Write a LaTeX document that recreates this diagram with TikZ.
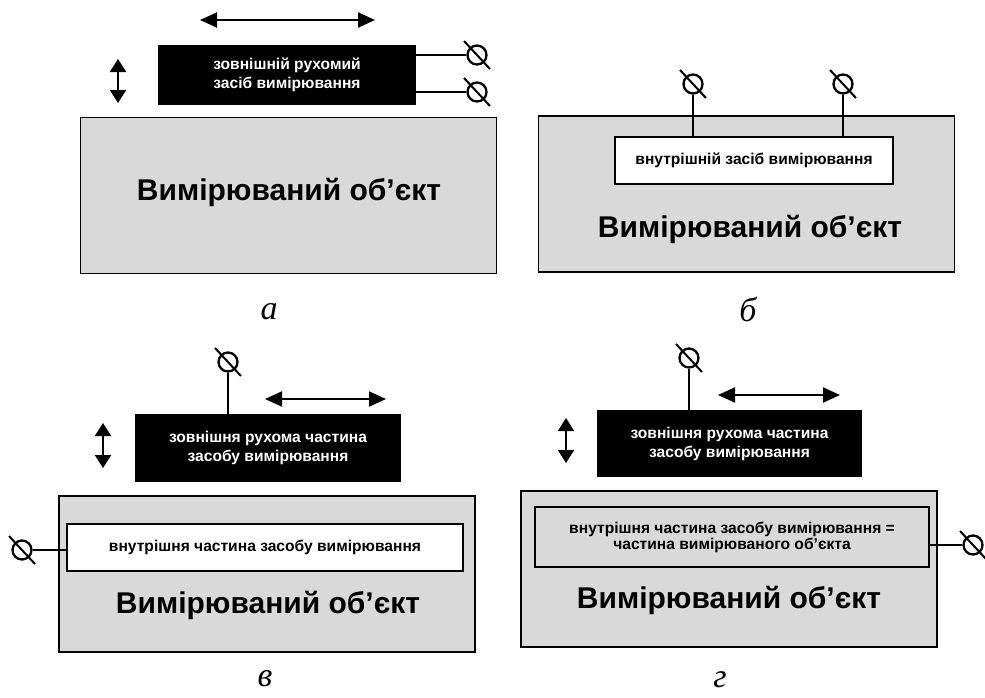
\documentclass[tikz,border=0pt]{standalone}
\usepackage{fontspec}
\setmainfont{Liberation Sans}
\newfontfamily\labelfont{Liberation Serif}
\usetikzlibrary{arrows.meta}
\definecolor{objgray}{HTML}{D9D9D9}

\tikzset{
  object/.style={draw,line width=1.6pt,fill=objgray,minimum width=416pt,minimum height=156pt,inner sep=0pt},
  outer/.style={fill=black,text=white,font=\bfseries\fontsize{15.6}{19}\selectfont,align=center,inner sep=0pt},
  inner/.style={draw,line width=1.4pt,fill=white,font=\bfseries\fontsize{15.6}{19}\selectfont,align=center,inner sep=0pt},
  title/.style={font=\bfseries\fontsize{30}{36}\selectfont,inner sep=0pt},
  term/.style={circle,draw,line width=2.3pt,minimum size=19pt,inner sep=0pt},
  move/.style={{Triangle[length=17pt,width=15pt]}-{Triangle[length=17pt,width=15pt]},line width=2pt},
  lift/.style={{Triangle[length=13pt,width=16pt]}-{Triangle[length=13pt,width=16pt]},line width=2pt},
  wire/.style={line width=1.3pt},
  caption/.style={font=\labelfont\itshape\fontsize{34}{40}\selectfont,inner sep=0pt}
}

\begin{document}
\begin{tikzpicture}[x=1pt,y=-1pt]
\useasboundingbox (0,0) rectangle (985,697);

% a
\node[object] (objA) at (288.5,195.5) {};
\node[title] at (289,192) {Вимірюваний об’єкт};
\node[outer,minimum width=258pt,minimum height=60pt] (outerA) at (287,75) {зовнішній рухомий\\засіб вимірювання};
\node[term] (ta1) at (477,55) {};
\node[term] (ta2) at (477,92) {};
\draw[wire] (ta1 -| outerA.east) -- (ta1);
\draw[wire] (ta2 -| outerA.east) -- (ta2);
\coordinate (hA1) at (200,20);
\coordinate (hA2) at (375,20);
\draw[move] (hA1) -- (hA2);
\coordinate (vA1) at (118,59);
\coordinate (vA2) at (118,103);
\draw[lift] (vA1) -- (vA2);
\node[caption] (capA) at (269,312) {а};

% b
\node[object,minimum height=156pt] (objB) at (746.5,194) {};
\node[title] at (750,229) {Вимірюваний об’єкт};
\node[inner,minimum width=278pt,minimum height=47pt] (innerB) at (754,160.5) {внутрішній засіб вимірювання};
\node[term] (tb1) at (693,84) {};
\node[term] (tb2) at (843,84) {};
\draw[wire] (tb1) -- (tb1 |- innerB.north);
\draw[wire] (tb2) -- (tb2 |- innerB.north);
\node[caption] (capB) at (748,309) {б};

% v
\node[object] (objC) at (267,574) {};
\node[title] at (268,605) {Вимірюваний об’єкт};
\node[inner,minimum width=396pt,minimum height=47pt] (innerC) at (265,547.5) {внутрішня частина засобу вимірювання};
\node[outer,minimum width=266pt,minimum height=68pt] (outerC) at (268,448) {зовнішня рухома частина\\засобу вимірювання};
\node[term] (tc1) at (228,362) {};
\node[term] (tc2) at (22,550) {};
\draw[wire] (tc1) -- (tc1 |- outerC.north);
\draw[wire] (tc2) -- (tc2 -| innerC.west);
\coordinate (hC1) at (265,399);
\coordinate (hC2) at (386,399);
\draw[move] (hC1) -- (hC2);
\coordinate (vC1) at (103,423);
\coordinate (vC2) at (103,468);
\draw[lift] (vC1) -- (vC2);
\node[caption] (capC) at (265,679) {в};

% g
\node[object] (objD) at (729,569) {};
\node[title] at (729,600) {Вимірюваний об’єкт};
\node[inner,fill=objgray,minimum width=394pt,minimum height=60pt,font=\bfseries\fontsize{15.6}{15.8}\selectfont] (innerD) at (732,537) {внутрішня частина засобу вимірювання =\\частина вимірюваного об’єкта};
\node[outer,minimum width=265pt,minimum height=67pt] (outerD) at (729.5,443.5) {зовнішня рухома частина\\засобу вимірювання};
\node[term] (td1) at (689,358) {};
\node[term] (td2) at (973,545) {};
\draw[wire] (td1) -- (td1 |- outerD.north);
\draw[wire] (td2 -| innerD.east) -- (td2);
\coordinate (hD1) at (718,395);
\coordinate (hD2) at (840,395);
\draw[move] (hD1) -- (hD2);
\coordinate (vD1) at (566,418);
\coordinate (vD2) at (566,463);
\draw[lift] (vD1) -- (vD2);
\node[caption] (capD) at (720,680) {г};

% slashes over the terminals
\foreach \t in {ta1,ta2,tb1,tb2,tc1,tc2,td1,td2}
  \draw[line width=2pt] (\t.center) ++(-13,-14) -- ++(26,28);

\end{tikzpicture}
\end{document}
